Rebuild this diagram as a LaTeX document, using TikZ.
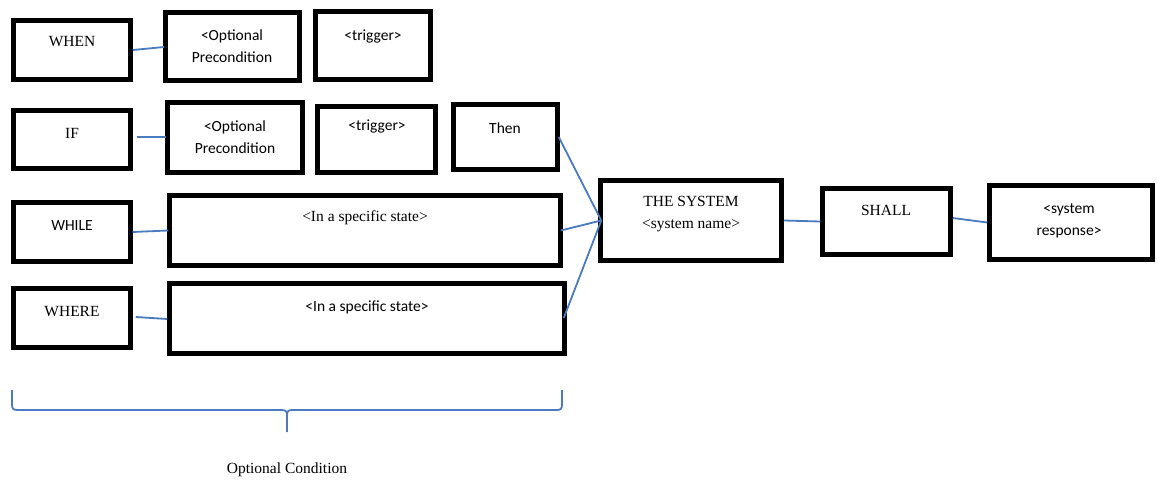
\documentclass[tikz,border=0pt]{standalone}
\usepackage{fontspec}
\setmainfont{Liberation Serif}
\newfontfamily\carlfont{Carlito}
\definecolor{connblue}{HTML}{4A7AC0}
\begin{document}
\begin{tikzpicture}[x=1pt,y=-1pt,
  box/.style={draw=black, line width=4.5pt, rectangle, inner sep=0pt, fill=white},
  conn/.style={draw=connblue, line width=1.8pt},
  serif/.style={font=\fontsize{15.5}{22}\selectfont, align=center, inner sep=0pt},
  sans/.style={font=\carlfont\fontsize{15.5}{22}\selectfont, align=center, inner sep=0pt}]
\useasboundingbox[fill=white] (0,0) rectangle (1157,481);

% boxes
\node[box, minimum width=117pt, minimum height=59pt] (when) at (72,50) {};
\node[box, minimum width=134pt, minimum height=68pt] (op1) at (232.5,46.5) {};
\node[box, minimum width=115pt, minimum height=68pt] (trig1) at (373,45.5) {};
\node[box, minimum width=117pt, minimum height=58pt] (if) at (72,139.5) {};
\node[box, minimum width=135pt, minimum height=70pt] (op2) at (235,137.5) {};
\node[box, minimum width=118pt, minimum height=66pt] (trig2) at (376.5,139.5) {};
\node[box, minimum width=104pt, minimum height=65pt] (then) at (505.5,137) {};
\node[box, minimum width=117pt, minimum height=59pt] (while) at (72,232) {};
\node[box, minimum width=391pt, minimum height=70pt] (state1) at (365,230.5) {};
\node[box, minimum width=117pt, minimum height=59pt] (where) at (72,318) {};
\node[box, minimum width=395pt, minimum height=70pt] (state2) at (367,318.5) {};
\node[box, minimum width=181pt, minimum height=80pt] (sys) at (691,220.5) {};
\node[box, minimum width=128pt, minimum height=66pt] (shall) at (886.5,221.5) {};
\node[box, minimum width=163pt, minimum height=74pt] (resp) at (1071,222.5) {};

% texts
\node[serif] (twhen) at (72,42) {WHEN};
\node[sans] (top1) at (232,46.5) {<Optional\\Precondition};
\node[sans] (ttrig1) at (373,37) {<trigger>};
\node[serif] (tif) at (72,133) {IF};
\node[sans] (top2) at (235,137.5) {<Optional\\Precondition};
\node[sans] (ttrig2) at (377,127) {<trigger>};
\node[sans] (tthen) at (505,128) {Then};
\node[sans] (twhile) at (72,226) {WHILE};
\node[serif] (tstate1) at (365,218) {<In a specific state>};
\node[serif] (twhere) at (72,312) {WHERE};
\node[sans] (tstate2) at (367,307) {<In a specific state>};
\node[serif] (tsys) at (691,214) {THE SYSTEM\\<system name>};
\node[serif] (tshall) at (886,210) {SHALL};
\node[sans] (tresp) at (1069,221) {<system\\response>};
\node[serif] (tcond) at (287,470) {Optional Condition};

% connectors
\draw[conn] ([yshift=0pt]when.east) -- ([shift={(1pt,-0.5pt)}]op1.west);
\draw[conn] ([xshift=4pt,yshift=2.5pt]if.east) -- ([xshift=1pt,yshift=0.5pt]op2.west);
\draw[conn] (while.east) -- ([xshift=1pt]state1.west);
\draw[conn] ([shift={(3pt,1pt)}]where.east) -- ([shift={(0pt,-0.5pt)}]state2.west);
\draw[conn] ([xshift=-1pt]then.east) -- ([shift={(3pt,0pt)}]sys.west);
\draw[conn] ([xshift=-2pt]state1.east) -- ([shift={(3pt,0pt)}]sys.west);
\draw[conn] ([shift={(-3pt,0.5pt)}]state2.east) -- ([shift={(3pt,0pt)}]sys.west);
\draw[conn] (sys.east) -- (shall.west);
\draw[conn] ([yshift=3.5pt]shall.east) -- (resp.west);

% brace
\draw[conn, line join=round] (12,390) -- (12,404) .. controls (12,409) and (13,410) .. (18,410)
  -- (281,410) .. controls (286,410) and (287,411) .. (287,416) -- (287,432);
\draw[conn, line join=round] (562,390) -- (562,404) .. controls (562,409) and (561,410) .. (556,410)
  -- (293,410) .. controls (288,410) and (287,411) .. (287,416);
\end{tikzpicture}
\end{document}
